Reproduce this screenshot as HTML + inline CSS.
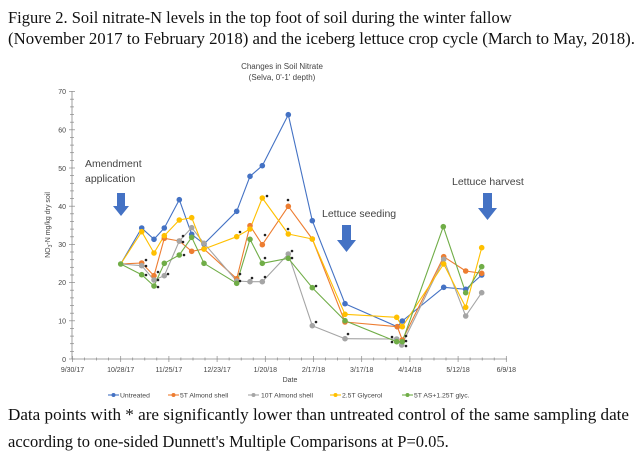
<!DOCTYPE html>
<html><head><meta charset="utf-8"><style>
body{margin:0;background:#fff;}
svg{display:block;}
.s{font-family:"Liberation Serif",serif;font-size:16.5px;fill:#111;}
.c{font-family:"Liberation Sans",sans-serif;fill:#444;}
</style></head><body>
<svg width="640" height="460" xmlns="http://www.w3.org/2000/svg">
<rect width="640" height="460" fill="#fff"/>
<text class="s" x="8" y="23">Figure 2. Soil nitrate-N levels in the top foot of soil during the winter fallow</text>
<text class="s" x="8" y="44" textLength="627" lengthAdjust="spacingAndGlyphs">(November 2017 to February 2018) and the iceberg lettuce crop cycle (March to May, 2018).</text>
<text class="c" x="282" y="69" font-size="8" text-anchor="middle">Changes in Soil Nitrate</text>
<text class="c" x="282" y="80" font-size="8" text-anchor="middle">(Selva, 0'-1' depth)</text>
<!-- axes -->
<g stroke="#888" stroke-width="0.8" fill="none">
<line x1="72" y1="91" x2="72" y2="359"/>
<line x1="72" y1="359" x2="507" y2="359"/>
</g>
<g stroke="#888" stroke-width="0.7" id="yt"></g>
<g class="c" font-size="7" text-anchor="end">
<text x="66" y="362">0</text><text x="66" y="323.5">10</text><text x="66" y="285">20</text><text x="66" y="247">30</text><text x="66" y="209">40</text><text x="66" y="171">50</text><text x="66" y="132.5">60</text><text x="66" y="94">70</text>
</g>
<g class="c" font-size="7" text-anchor="middle">
<text x="72.5" y="372">9/30/17</text><text x="120.7" y="372">10/28/17</text><text x="168.9" y="372">11/25/17</text><text x="217.1" y="372">12/23/17</text><text x="265.3" y="372">1/20/18</text><text x="313.5" y="372">2/17/18</text><text x="361.7" y="372">3/17/18</text><text x="409.9" y="372">4/14/18</text><text x="458.1" y="372">5/12/18</text><text x="506.3" y="372">6/9/18</text>
<text x="290" y="382">Date</text>
</g>
<text class="c" font-size="7" transform="translate(50,225) rotate(-90)" text-anchor="middle">NO<tspan font-size="5" dy="2">3</tspan><tspan dy="-2">-N mg/kg dry soil</tspan></text>
<g stroke="#888" stroke-width="0.7">
<line x1="69" y1="359" x2="75" y2="359"/><line x1="69" y1="320.8" x2="75" y2="320.8"/><line x1="69" y1="282.6" x2="75" y2="282.6"/><line x1="69" y1="244.4" x2="75" y2="244.4"/><line x1="69" y1="206.2" x2="75" y2="206.2"/><line x1="69" y1="168" x2="75" y2="168"/><line x1="69" y1="129.8" x2="75" y2="129.8"/><line x1="69" y1="91.6" x2="75" y2="91.6"/>
<line x1="70" y1="351.4" x2="74" y2="351.4"/><line x1="70" y1="343.7" x2="74" y2="343.7"/><line x1="70" y1="336.1" x2="74" y2="336.1"/><line x1="70" y1="328.4" x2="74" y2="328.4"/>
<line x1="70" y1="313.2" x2="74" y2="313.2"/><line x1="70" y1="305.5" x2="74" y2="305.5"/><line x1="70" y1="297.9" x2="74" y2="297.9"/><line x1="70" y1="290.2" x2="74" y2="290.2"/>
<line x1="70" y1="275" x2="74" y2="275"/><line x1="70" y1="267.3" x2="74" y2="267.3"/><line x1="70" y1="259.7" x2="74" y2="259.7"/><line x1="70" y1="252" x2="74" y2="252"/>
<line x1="70" y1="236.8" x2="74" y2="236.8"/><line x1="70" y1="229.1" x2="74" y2="229.1"/><line x1="70" y1="221.5" x2="74" y2="221.5"/><line x1="70" y1="213.8" x2="74" y2="213.8"/>
<line x1="70" y1="198.6" x2="74" y2="198.6"/><line x1="70" y1="190.9" x2="74" y2="190.9"/><line x1="70" y1="183.3" x2="74" y2="183.3"/><line x1="70" y1="175.6" x2="74" y2="175.6"/>
<line x1="70" y1="160.4" x2="74" y2="160.4"/><line x1="70" y1="152.7" x2="74" y2="152.7"/><line x1="70" y1="145.1" x2="74" y2="145.1"/><line x1="70" y1="137.4" x2="74" y2="137.4"/>
<line x1="70" y1="122.2" x2="74" y2="122.2"/><line x1="70" y1="114.5" x2="74" y2="114.5"/><line x1="70" y1="106.9" x2="74" y2="106.9"/><line x1="70" y1="99.2" x2="74" y2="99.2"/>
</g>
<g stroke="#888" stroke-width="0.7">
<line x1="72.5" y1="356" x2="72.5" y2="362"/><line x1="120.7" y1="356" x2="120.7" y2="362"/><line x1="168.9" y1="356" x2="168.9" y2="362"/><line x1="217.1" y1="356" x2="217.1" y2="362"/><line x1="265.3" y1="356" x2="265.3" y2="362"/><line x1="313.5" y1="356" x2="313.5" y2="362"/><line x1="361.7" y1="356" x2="361.7" y2="362"/><line x1="409.9" y1="356" x2="409.9" y2="362"/><line x1="458.1" y1="356" x2="458.1" y2="362"/><line x1="506.3" y1="356" x2="506.3" y2="362"/>
<line x1="84.5" y1="357.5" x2="84.5" y2="360.5"/><line x1="96.6" y1="357.5" x2="96.6" y2="360.5"/><line x1="108.6" y1="357.5" x2="108.6" y2="360.5"/>
<line x1="132.7" y1="357.5" x2="132.7" y2="360.5"/><line x1="144.8" y1="357.5" x2="144.8" y2="360.5"/><line x1="156.8" y1="357.5" x2="156.8" y2="360.5"/>
<line x1="180.9" y1="357.5" x2="180.9" y2="360.5"/><line x1="193" y1="357.5" x2="193" y2="360.5"/><line x1="205" y1="357.5" x2="205" y2="360.5"/>
<line x1="229.1" y1="357.5" x2="229.1" y2="360.5"/><line x1="241.2" y1="357.5" x2="241.2" y2="360.5"/><line x1="253.2" y1="357.5" x2="253.2" y2="360.5"/>
<line x1="277.3" y1="357.5" x2="277.3" y2="360.5"/><line x1="289.4" y1="357.5" x2="289.4" y2="360.5"/><line x1="301.4" y1="357.5" x2="301.4" y2="360.5"/>
<line x1="325.5" y1="357.5" x2="325.5" y2="360.5"/><line x1="337.6" y1="357.5" x2="337.6" y2="360.5"/><line x1="349.6" y1="357.5" x2="349.6" y2="360.5"/>
<line x1="373.7" y1="357.5" x2="373.7" y2="360.5"/><line x1="385.8" y1="357.5" x2="385.8" y2="360.5"/><line x1="397.8" y1="357.5" x2="397.8" y2="360.5"/>
<line x1="421.9" y1="357.5" x2="421.9" y2="360.5"/><line x1="434" y1="357.5" x2="434" y2="360.5"/><line x1="446" y1="357.5" x2="446" y2="360.5"/>
<line x1="470.1" y1="357.5" x2="470.1" y2="360.5"/><line x1="482.2" y1="357.5" x2="482.2" y2="360.5"/><line x1="494.2" y1="357.5" x2="494.2" y2="360.5"/>
</g>
<!-- series -->
<g fill="none" stroke-width="1.1" stroke-linejoin="round">
<polyline stroke="#4472C4" points="120.7,264 141.7,228 154,239.3 164.3,228 179.3,199.7 191.7,234.3 204,244 236.7,211.3 250,176.3 262.3,165.7 288.3,114.7 312.3,220.7 345,303.7 397.3,326.7 402.3,321 443.7,287.3 465.7,289.3 481.7,275"/>
<polyline stroke="#ED7D31" points="120.7,264 141.7,263 154,275.7 164.3,238.3 179.3,241 191.7,251.3 204,249 236.7,278.7 250,225.7 262.3,244.7 288.3,206.3 312.3,239 345,322 397.3,326.7 402.3,340 443.7,256.7 465.7,271 481.7,273.3"/>
<polyline stroke="#A5A5A5" points="120.7,264 141.7,265.7 154,280 164.3,275.7 179.3,241 191.7,227.7 204,243.3 236.7,281 250,281.7 262.3,281.7 288.3,254 312.3,325.7 345,338.7 396.7,339 401.7,345 443.7,259.3 465.7,316 481.7,292.7"/>
<polyline stroke="#FFC000" points="120.7,264 141.7,231.7 154,253 164.3,235.7 179.3,220 191.7,217.7 204,249 236.7,236.7 250,229 262.3,198 288.3,234 312.3,239 345,314.3 396.7,317.3 402.3,326.7 443.7,264 465.7,307.3 481.7,247.7"/>
<polyline stroke="#70AD47" points="120.7,264 141.7,274.7 154,286 164.3,263.3 179.3,255 191.7,237.3 204,263.3 236.7,283.3 250,239.3 262.3,263.3 288.3,258.3 312.3,287.7 345,320.7 396.7,341.7 402.3,341.7 443.3,226.7 465.7,292.7 481.7,266.7"/>
</g>
<g fill="#4472C4"><circle cx="141.7" cy="228" r="2.8"/><circle cx="154" cy="239.3" r="2.8"/><circle cx="164.3" cy="228" r="2.8"/><circle cx="179.3" cy="199.7" r="2.8"/><circle cx="191.7" cy="234.3" r="2.8"/><circle cx="204" cy="244" r="2.8"/><circle cx="236.7" cy="211.3" r="2.8"/><circle cx="250" cy="176.3" r="2.8"/><circle cx="262.3" cy="165.7" r="2.8"/><circle cx="288.3" cy="114.7" r="2.8"/><circle cx="312.3" cy="220.7" r="2.8"/><circle cx="345" cy="303.7" r="2.8"/><circle cx="397.3" cy="326.7" r="2.8"/><circle cx="402.3" cy="321" r="2.8"/><circle cx="443.7" cy="287.3" r="2.8"/><circle cx="465.7" cy="289.3" r="2.8"/><circle cx="481.7" cy="275" r="2.8"/></g>
<g fill="#ED7D31"><circle cx="141.7" cy="263" r="2.8"/><circle cx="154" cy="275.7" r="2.8"/><circle cx="164.3" cy="238.3" r="2.8"/><circle cx="179.3" cy="241" r="2.8"/><circle cx="191.7" cy="251.3" r="2.8"/><circle cx="204" cy="249" r="2.8"/><circle cx="236.7" cy="278.7" r="2.8"/><circle cx="250" cy="225.7" r="2.8"/><circle cx="262.3" cy="244.7" r="2.8"/><circle cx="288.3" cy="206.3" r="2.8"/><circle cx="312.3" cy="239" r="2.8"/><circle cx="345" cy="322" r="2.8"/><circle cx="397.3" cy="326.7" r="2.8"/><circle cx="402.3" cy="340" r="2.8"/><circle cx="443.7" cy="256.7" r="2.8"/><circle cx="465.7" cy="271" r="2.8"/><circle cx="481.7" cy="273.3" r="2.8"/></g>
<g fill="#A5A5A5"><circle cx="141.7" cy="265.7" r="2.8"/><circle cx="154" cy="280" r="2.8"/><circle cx="164.3" cy="275.7" r="2.8"/><circle cx="179.3" cy="241" r="2.8"/><circle cx="191.7" cy="227.7" r="2.8"/><circle cx="204" cy="243.3" r="2.8"/><circle cx="236.7" cy="281" r="2.8"/><circle cx="250" cy="281.7" r="2.8"/><circle cx="262.3" cy="281.7" r="2.8"/><circle cx="288.3" cy="254" r="2.8"/><circle cx="312.3" cy="325.7" r="2.8"/><circle cx="345" cy="338.7" r="2.8"/><circle cx="396.7" cy="339" r="2.8"/><circle cx="401.7" cy="345" r="2.8"/><circle cx="443.7" cy="259.3" r="2.8"/><circle cx="465.7" cy="316" r="2.8"/><circle cx="481.7" cy="292.7" r="2.8"/></g>
<g fill="#FFC000"><circle cx="141.7" cy="231.7" r="2.8"/><circle cx="154" cy="253" r="2.8"/><circle cx="164.3" cy="235.7" r="2.8"/><circle cx="179.3" cy="220" r="2.8"/><circle cx="191.7" cy="217.7" r="2.8"/><circle cx="204" cy="249" r="2.8"/><circle cx="236.7" cy="236.7" r="2.8"/><circle cx="250" cy="229" r="2.8"/><circle cx="262.3" cy="198" r="2.8"/><circle cx="288.3" cy="234" r="2.8"/><circle cx="312.3" cy="239" r="2.8"/><circle cx="345" cy="314.3" r="2.8"/><circle cx="396.7" cy="317.3" r="2.8"/><circle cx="402.3" cy="326.7" r="2.8"/><circle cx="443.7" cy="264" r="2.8"/><circle cx="465.7" cy="307.3" r="2.8"/><circle cx="481.7" cy="247.7" r="2.8"/></g>
<g fill="#70AD47"><circle cx="120.7" cy="264" r="2.8"/><circle cx="141.7" cy="274.7" r="2.8"/><circle cx="154" cy="286" r="2.8"/><circle cx="164.3" cy="263.3" r="2.8"/><circle cx="179.3" cy="255" r="2.8"/><circle cx="191.7" cy="237.3" r="2.8"/><circle cx="204" cy="263.3" r="2.8"/><circle cx="236.7" cy="283.3" r="2.8"/><circle cx="250" cy="239.3" r="2.8"/><circle cx="262.3" cy="263.3" r="2.8"/><circle cx="288.3" cy="258.3" r="2.8"/><circle cx="312.3" cy="287.7" r="2.8"/><circle cx="345" cy="320.7" r="2.8"/><circle cx="396.7" cy="341.7" r="2.8"/><circle cx="402.3" cy="341.7" r="2.8"/><circle cx="443.3" cy="226.7" r="2.8"/><circle cx="465.7" cy="292.7" r="2.8"/><circle cx="481.7" cy="266.7" r="2.8"/></g>
<!-- asterisks -->
<g fill="#222">
<circle cx="146" cy="260" r="1.3"/><circle cx="146" cy="266" r="1.3"/><circle cx="146" cy="275" r="1.3"/><circle cx="158" cy="272" r="1.3"/><circle cx="158" cy="280" r="1.3"/><circle cx="158" cy="287" r="1.3"/><circle cx="168" cy="274" r="1.3"/><circle cx="183" cy="236" r="1.3"/><circle cx="183" cy="242" r="1.3"/><circle cx="184" cy="255" r="1.3"/>
<circle cx="240" cy="232" r="1.3"/><circle cx="240" cy="274" r="1.3"/><circle cx="240" cy="281" r="1.3"/><circle cx="252" cy="278" r="1.3"/><circle cx="265" cy="235" r="1.3"/><circle cx="265" cy="258" r="1.3"/><circle cx="265" cy="277" r="1.3"/><circle cx="267" cy="196" r="1.3"/>
<circle cx="288" cy="200" r="1.3"/><circle cx="288" cy="229" r="1.3"/><circle cx="292" cy="251" r="1.3"/><circle cx="292" cy="258" r="1.3"/><circle cx="316" cy="286" r="1.3"/><circle cx="316" cy="322" r="1.3"/><circle cx="348" cy="334" r="1.3"/>
<circle cx="392" cy="337" r="1.3"/><circle cx="392" cy="342" r="1.3"/><circle cx="406" cy="336" r="1.3"/><circle cx="406" cy="341" r="1.3"/><circle cx="406" cy="346" r="1.3"/>
</g>
<!-- annotations -->
<g class="c" font-size="10.5" fill="#333">
<text x="85" y="167">Amendment</text><text x="85" y="182">application</text>
<text x="322" y="217">Lettuce seeding</text>
<text x="452" y="185">Lettuce harvest</text>
</g>
<g fill="#4472C4">
<polygon points="117,193 125,193 125,206 129,206 121,216 113,206 117,206"/>
<polygon points="342,225 351,225 351,240 356,240 346.5,252 337,240 342,240"/>
<polygon points="483,193 492,193 492,208 497,208 487.5,220 478,208 483,208"/>
</g>
<!-- legend -->
<g stroke-width="1.1">
<line x1="108" y1="395" x2="119" y2="395" stroke="#4472C4"/><circle cx="113.5" cy="395" r="2" fill="#4472C4"/>
<line x1="168" y1="395" x2="179" y2="395" stroke="#ED7D31"/><circle cx="173.5" cy="395" r="2" fill="#ED7D31"/>
<line x1="248" y1="395" x2="259" y2="395" stroke="#A5A5A5"/><circle cx="253.5" cy="395" r="2" fill="#A5A5A5"/>
<line x1="330" y1="395" x2="341" y2="395" stroke="#FFC000"/><circle cx="335.5" cy="395" r="2" fill="#FFC000"/>
<line x1="402" y1="395" x2="413" y2="395" stroke="#70AD47"/><circle cx="407.5" cy="395" r="2" fill="#70AD47"/>
</g>
<g class="c" font-size="6.8">
<text x="120" y="397.5">Untreated</text><text x="180" y="397.5">5T Almond shell</text><text x="261" y="397.5">10T Almond shell</text><text x="342" y="397.5">2.5T Glycerol</text><text x="414" y="397.5">5T AS+1.25T glyc.</text>
</g>
<text class="s" x="8" y="420" textLength="621" lengthAdjust="spacingAndGlyphs">Data points with * are significantly lower than untreated control of the same sampling date</text>
<text class="s" x="8" y="447">according to one-sided Dunnett's Multiple Comparisons at P=0.05.</text>
</svg>
</body></html>
